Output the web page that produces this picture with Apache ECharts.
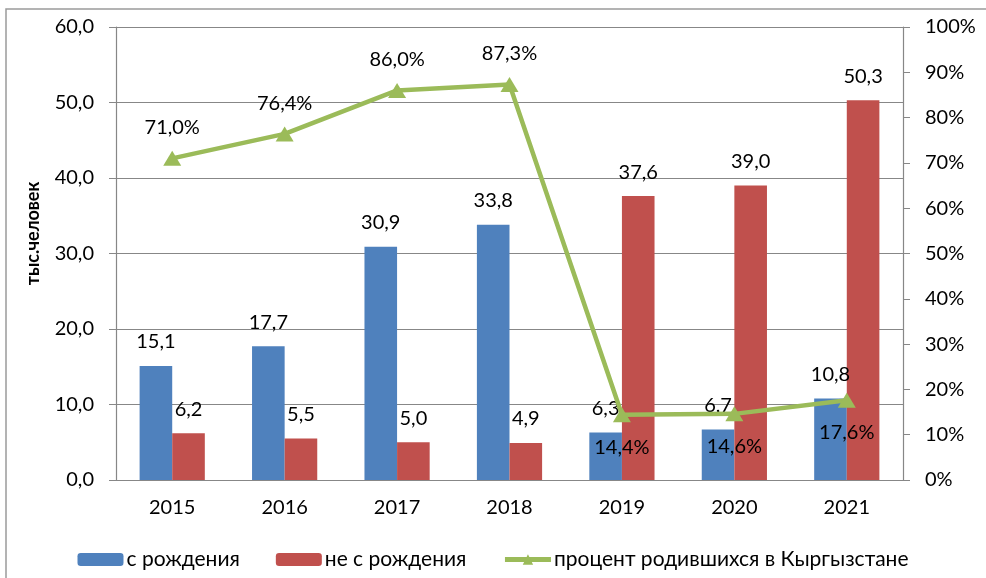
<!DOCTYPE html>
<html lang="ru">
<head>
    <meta charset="UTF-8">
    <title>Мигранты</title>
    <script src="https://cdn.jsdelivr.net/npm/echarts@6/dist/echarts.min.js"></script>
    <style>
      html, body { margin: 0; padding: 0; background: #fff; }
    </style>
</head>
<body>
    <div id="main" style="width: 986px;height:578px;"></div>
</body>

<script>
  // годы
  const years = ['2015', '2016', '2017', '2018', '2019', '2020', '2021']
  // тыс. человек
  const fromBirth = [15.1, 17.7, 30.9, 33.8, 6.3, 6.7, 10.8]
  const notFromBirth = [6.2, 5.5, 5.0, 4.9, 37.6, 39.0, 50.3]
  // процент родившихся в Кыргызстане
  const percentBorn = [71.0, 76.4, 86.0, 87.3, 14.4, 14.6, 17.6]
  // где подпись у точки линии
  const pctLabelPos = ['top', 'top', 'top', 'top', 'bottom', 'bottom', 'bottom']

  const font = 'Lato'
  const gray = '#878787'
  const comma = (v, d) => v.toFixed(d).replace('.', ',')

  const myChart = echarts.init(document.getElementById('main'))

  const option = {
    backgroundColor: '#fff',
    textStyle: { fontFamily: font },
    animation: false,
    graphic: [{
      type: 'rect',
      shape: { x: 6, y: 9, width: 1000, height: 620 },
      style: { fill: 'none', stroke: '#9a9a9a', lineWidth: 1.5 },
      silent: true
    }],
    grid: { left: 116, right: 83, top: 27, bottom: 98 },
    legend: {
      left: 'center',
      top: 544,
      itemWidth: 46,
      itemHeight: 13,
      itemGap: 36,
      textStyle: { fontSize: 21, color: '#000', fontFamily: font, padding: [0, 0, 0, -2] },
      data: [
        'с рождения',
        'не с рождения',
        { name: 'процент родившихся в Кыргызстане', lineStyle: { width: 5 } }
      ]
    },
    xAxis: {
      type: 'category',
      data: years,
      axisLine: { lineStyle: { color: gray, width: 1.2 } },
      axisTick: { length: 7, lineStyle: { color: gray } },
      axisLabel: { fontSize: 20, color: '#000', margin: 18 }
    },
    yAxis: [
      {
        type: 'value',
        min: 0,
        max: 60,
        interval: 10,
        name: 'тыс.человек',
        nameLocation: 'middle',
        nameGap: 74,
        nameTextStyle: { fontSize: 18, fontWeight: 'bold', color: '#000', padding: [0, 0, 0, 40] },
        axisLine: { show: true, lineStyle: { color: gray, width: 1.2 } },
        axisTick: { show: true, length: 7, lineStyle: { color: gray } },
        splitLine: { lineStyle: { color: gray, width: 1.2 } },
        axisLabel: { fontSize: 20, color: '#000', margin: 22, formatter: v => comma(v, 1) }
      },
      {
        type: 'value',
        min: 0,
        max: 100,
        interval: 10,
        position: 'right',
        axisLine: { show: true, lineStyle: { color: gray, width: 1.2 } },
        axisTick: { show: true, length: 7, lineStyle: { color: gray } },
        splitLine: { show: false },
        axisLabel: { fontSize: 20, color: '#000', margin: 22, formatter: '{value}%' }
      }
    ],
    series: [
      {
        name: 'с рождения',
        type: 'bar',
        data: fromBirth,
        barGap: '0%',
        barCategoryGap: '42%',
        itemStyle: { color: '#4F81BD' },
        label: {
          show: true, position: 'top', distance: 14,
          fontSize: 20, color: '#000', formatter: p => comma(p.value, 1)
        }
      },
      {
        name: 'не с рождения',
        type: 'bar',
        data: notFromBirth,
        itemStyle: { color: '#C0504D' },
        label: {
          show: true, position: 'top', distance: 14,
          fontSize: 20, color: '#000', formatter: p => comma(p.value, 1)
        }
      },
      {
        name: 'процент родившихся в Кыргызстане',
        type: 'line',
        yAxisIndex: 1,
        data: percentBorn.map((v, i) => ({
          value: v,
          label: { position: pctLabelPos[i], distance: pctLabelPos[i] === 'top' ? 13 : 15 }
        })),
        symbol: 'triangle',
        symbolSize: [18, 15],
        lineStyle: { color: '#9BBB59', width: 4.5 },
        itemStyle: { color: '#9BBB59' },
        label: {
          show: true, fontSize: 20, color: '#000',
          formatter: p => comma(p.value, 1) + '%'
        },
        z: 5
      }
    ]
  }

  myChart.setOption(option)
</script>

</html>
